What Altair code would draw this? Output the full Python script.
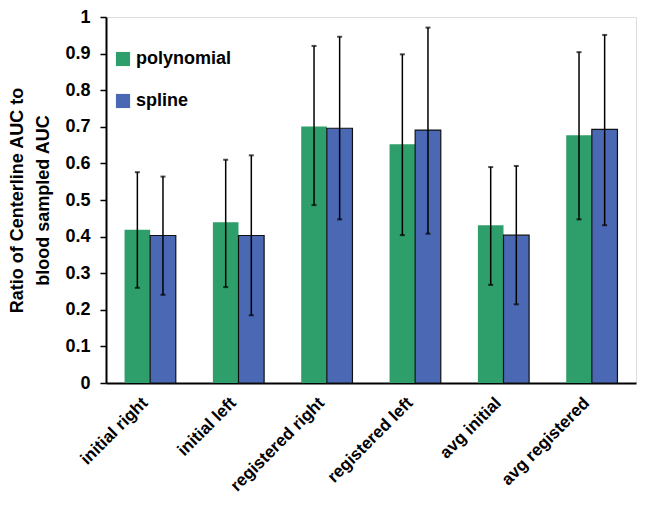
import altair as alt
import pandas as pd

categories = ["initial right", "initial left", "registered right",
              "registered left", "avg initial", "avg registered"]
series = ["polynomial", "spline"]
poly_mean = [0.419, 0.439, 0.701, 0.652, 0.431, 0.677]
poly_low = [0.260, 0.262, 0.486, 0.404, 0.268, 0.447]
poly_high = [0.576, 0.610, 0.921, 0.898, 0.590, 0.904]
spline_mean = [0.403, 0.403, 0.696, 0.691, 0.404, 0.693]
spline_low = [0.241, 0.185, 0.447, 0.408, 0.215, 0.431]
spline_high = [0.564, 0.622, 0.946, 0.971, 0.593, 0.951]
colors = ["#2e9e6a", "#4a68b4"]
y_ticks = [0, 0.1, 0.2, 0.3, 0.4, 0.5, 0.6, 0.7, 0.8, 0.9, 1.0]

rows = []
for i, c in enumerate(categories):
    rows.append({"category": c, "series": "polynomial", "mean": poly_mean[i],
                 "low": poly_low[i], "high": poly_high[i]})
    rows.append({"category": c, "series": "spline", "mean": spline_mean[i],
                 "low": spline_low[i], "high": spline_high[i]})
df = pd.DataFrame(rows)

FONT = "Liberation Sans"

x = alt.X("category:N", sort=categories,
          scale=alt.Scale(paddingInner=0.42, paddingOuter=0.21),
          axis=alt.Axis(title=None, labelAngle=-45, labelAlign="right",
                        labelBaseline="middle", labelFont=FONT, labelFontSize=17,
                        labelFontWeight="bold", labelColor="black",
                        ticks=False, labelPadding=17, labelOffset=-5,
                        domainColor="black", domainWidth=2))
xo = alt.XOffset("series:N", sort=series,
                 scale=alt.Scale(paddingInner=0, paddingOuter=0))
yscale = alt.Scale(domain=[0, 1], nice=False)
yaxis = alt.Axis(title=["Ratio of Centerline AUC to", "blood sampled AUC"],
                 values=y_ticks, format=".1~f", grid=False,
                 labelOverlap=False,
                 labelFont=FONT, labelFontSize=18, labelFontWeight="bold",
                 labelColor="black", labelPadding=10,
                 tickSize=6, tickColor="black", tickWidth=1.5,
                 domainColor="black", domainWidth=2,
                 titleFont=FONT, titleFontSize=18, titleFontWeight="bold",
                 titleColor="black", titleLineHeight=26, titlePadding=12)

bars = alt.Chart(df).mark_bar(stroke="#111111").encode(
    x=x, xOffset=xo,
    y=alt.Y("mean:Q", scale=yscale, axis=yaxis),
    color=alt.Color("series:N", sort=series,
                    scale=alt.Scale(domain=series, range=colors),
                    legend=alt.Legend(title=None, orient="none", legendX=8, legendY=33,
                                      symbolType="square", symbolSize=200,
                                      symbolStrokeWidth=0, labelFont=FONT,
                                      labelFontSize=18, labelFontWeight="bold",
                                      labelColor="black", rowPadding=24,
                                      labelOffset=4)),
    strokeWidth=alt.condition(alt.datum.series == "spline", alt.value(1.2), alt.value(0)),
)

rules = alt.Chart(df).mark_rule(color="black", strokeWidth=1.5).encode(
    x=x, xOffset=xo, y=alt.Y("low:Q", scale=yscale, axis=yaxis), y2="high:Q")

caps = alt.Chart(df).transform_fold(["low", "high"], as_=["end", "val"]).mark_tick(
    color="black", thickness=2, size=5, orient="horizontal").encode(
    x=x, xOffset=xo, y=alt.Y("val:Q", scale=yscale, axis=yaxis))

chart = alt.layer(bars, rules, caps).properties(
    width=530, height=366,
    padding={"left": 98, "top": 9, "right": 1, "bottom": 120},
    autosize=alt.AutoSizeParams(type="none"),
).configure_view(stroke="black", strokeWidth=2).configure(background="white")

chart.save("out.html", embed_options={"renderer": "svg", "actions": False})
